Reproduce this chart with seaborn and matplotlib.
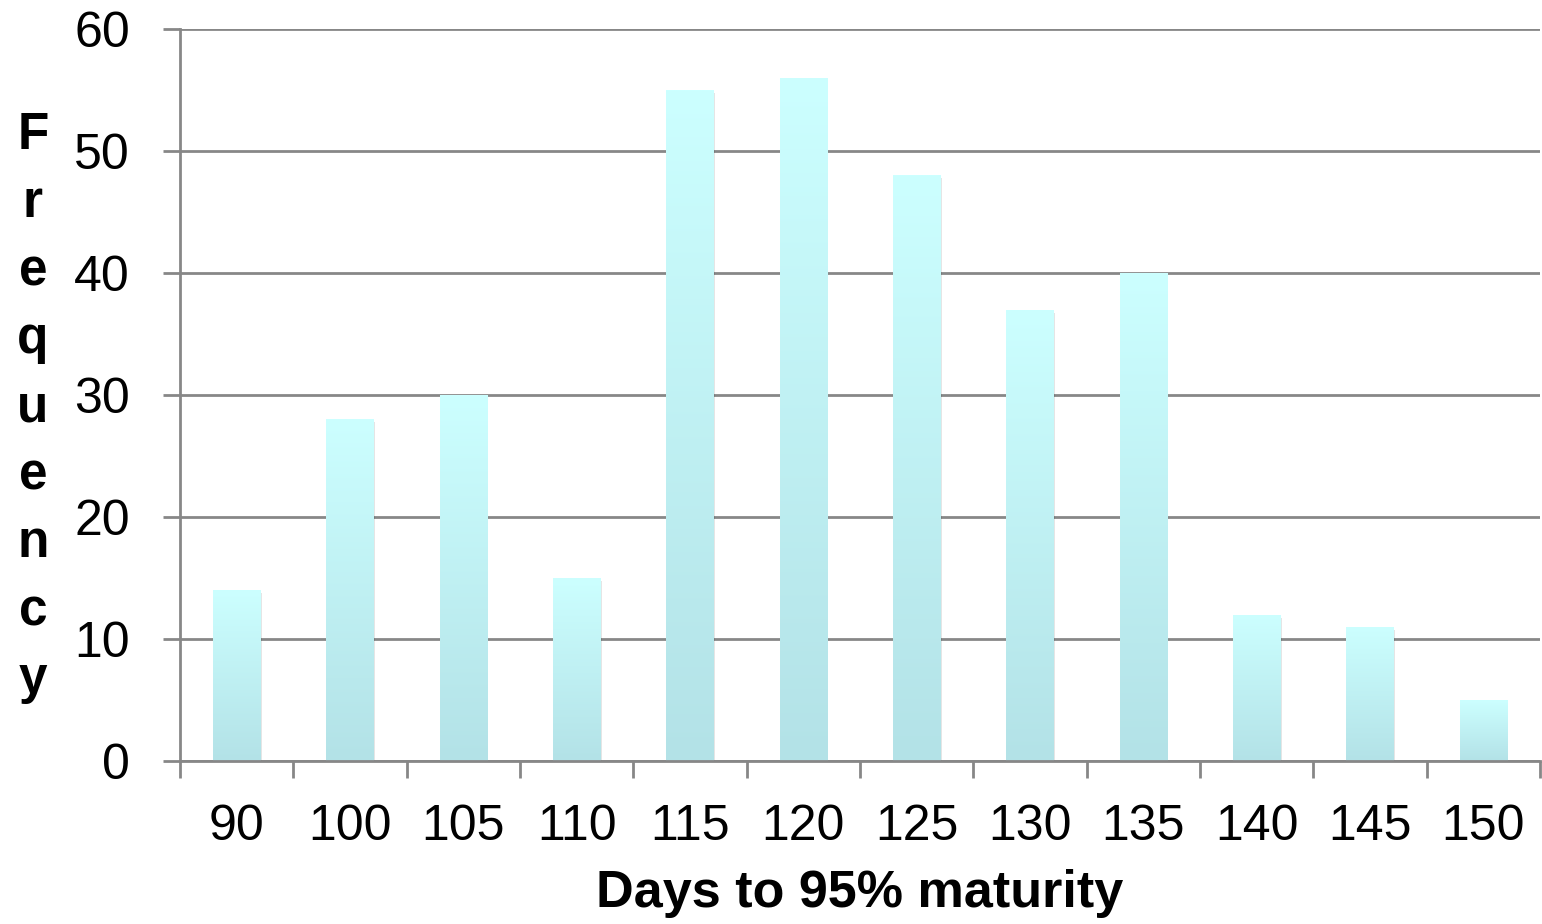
import numpy as np
import pandas as pd
import seaborn as sns
import matplotlib.pyplot as plt
from matplotlib.colors import LinearSegmentedColormap

# Datos del histograma
dias = ["90", "100", "105", "110", "115", "120", "125", "130", "135", "140", "145", "150"]
frecuencia = [14, 28, 30, 15, 55, 56, 48, 37, 40, 12, 11, 5]

df = pd.DataFrame({"dias": dias, "frecuencia": frecuencia})

sns.set_theme(style="white")
plt.rcParams["font.family"] = ["Liberation Sans", "DejaVu Sans"]
plt.rcParams["text.color"] = "black"
plt.rcParams["axes.labelcolor"] = "black"

fig = plt.figure(figsize=(15.42, 9.24), dpi=100)
ax = fig.add_axes([180 / 1542, 1 - 761 / 924, 1360 / 1542, 732 / 924])

sns.barplot(data=df, x="dias", y="frecuencia", ax=ax, width=0.42,
            color="#c4f4f6", saturation=1, edgecolor="none", zorder=3)

# Degradado vertical en cada barra
cmap = LinearSegmentedColormap.from_list("grad", ["#b3e2e7", "#ccffff"])
grad = np.linspace(0, 1, 256).reshape(-1, 1)
for patch in ax.patches:
    x0, y0 = patch.get_x(), patch.get_y()
    w, h = patch.get_width(), patch.get_height()
    # sombra sencilla
    sombra = plt.Rectangle((x0 + 0.012, y0), w, h - 0.25, facecolor="#000000",
                           alpha=0.10, zorder=2, edgecolor="none")
    ax.add_patch(sombra)
    im = ax.imshow(grad, cmap=cmap, origin="lower", aspect="auto",
                   extent=[x0, x0 + w, y0, y0 + h], zorder=3.5)
    im.set_clip_path(patch)
    patch.set_facecolor("none")
ax.set_xlim(-0.5, len(dias) - 0.5)
ax.set_ylim(0, 60)
ax.set_yticks(range(0, 61, 10))

# Rejilla y ejes
ax.yaxis.grid(True, color="#878787", linewidth=2, zorder=1)
ax.xaxis.grid(False)
for lado in ["top", "right"]:
    ax.spines[lado].set_visible(False)
for lado in ["left", "bottom"]:
    ax.spines[lado].set_color("#878787")
    ax.spines[lado].set_linewidth(2)
    ax.spines[lado].set_zorder(4)

ax.set_xticks(np.arange(-0.5, len(dias) + 0.5, 1), minor=False)
ax.set_xticklabels([])
ax.set_xticks(np.arange(len(dias)), minor=True)
ax.set_xticklabels(dias, minor=True)
ax.tick_params(axis="x", which="major", length=12, width=2, color="#878787", bottom=True)
ax.tick_params(axis="x", which="minor", length=0, labelsize=36, pad=31, labelcolor="black")
ax.tick_params(axis="y", length=12, width=2, color="#878787", left=True, labelsize=36,
               pad=24, labelcolor="black")

ax.set_xlabel("Days to 95% maturity", fontsize=37.5, fontweight="bold", labelpad=14,
              color="black")
ax.set_ylabel("")
fig.text(33 / 1542, 1 - 408 / 924, "\n".join("Frequency"), fontsize=37,
         fontweight="bold", ha="center", va="center", linespacing=1.5, color="black")

fig.savefig("out.png", dpi=100, facecolor="white")
